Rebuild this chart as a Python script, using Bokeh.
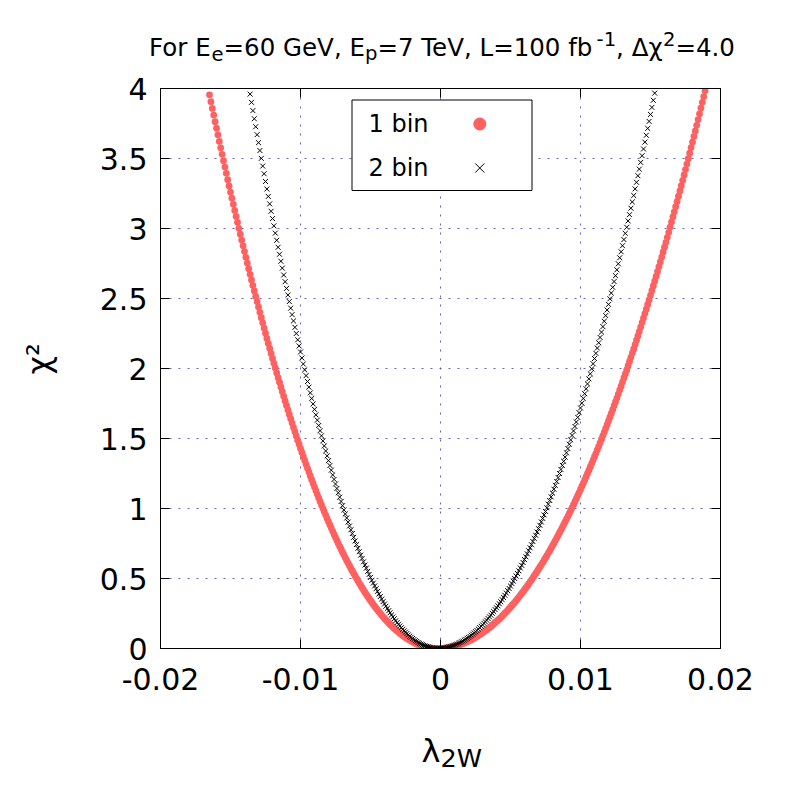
import math
from bokeh.plotting import figure
from bokeh.layouts import column, row
from bokeh.models import Range1d, LinearAxis, FixedTicker, BoxAnnotation, Label
from bokeh.embed import file_html
from bokeh.resources import INLINE

# ---------------- data ----------------
# lambda_2W in units of 1e-4, chi^2 values
lam_1bin_e4 = [
    -165, -164, -163, -162, -161, -160, -159, -158, -157, -156, -155, -154, -153, -152, -151, -150, -149, -148, -147, -146,
    -145, -144, -143, -142, -141, -140, -139, -138, -137, -136, -135, -134, -133, -132, -131, -130, -129, -128, -127, -126,
    -125, -124, -123, -122, -121, -120, -119, -118, -117, -116, -115, -114, -113, -112, -111, -110, -109, -108, -107, -106,
    -105, -104, -103, -102, -101, -100, -99, -98, -97, -96, -95, -94, -93, -92, -91, -90, -89, -88, -87, -86,
    -85, -84, -83, -82, -81, -80, -79, -78, -77, -76, -75, -74, -73, -72, -71, -70, -69, -68, -67, -66,
    -65, -64, -63, -62, -61, -60, -59, -58, -57, -56, -55, -54, -53, -52, -51, -50, -49, -48, -47, -46,
    -45, -44, -43, -42, -41, -40, -39, -38, -37, -36, -35, -34, -33, -32, -31, -30, -29, -28, -27, -26,
    -25, -24, -23, -22, -21, -20, -19, -18, -17, -16, -15, -14, -13, -12, -11, -10, -9, -8, -7, -6,
    -5, -4, -3, -2, -1, 0, 1, 2, 3, 4, 5, 6, 7, 8, 9, 10, 11, 12, 13, 14,
    15, 16, 17, 18, 19, 20, 21, 22, 23, 24, 25, 26, 27, 28, 29, 30, 31, 32, 33, 34,
    35, 36, 37, 38, 39, 40, 41, 42, 43, 44, 45, 46, 47, 48, 49, 50, 51, 52, 53, 54,
    55, 56, 57, 58, 59, 60, 61, 62, 63, 64, 65, 66, 67, 68, 69, 70, 71, 72, 73, 74,
    75, 76, 77, 78, 79, 80, 81, 82, 83, 84, 85, 86, 87, 88, 89, 90, 91, 92, 93, 94,
    95, 96, 97, 98, 99, 100, 101, 102, 103, 104, 105, 106, 107, 108, 109, 110, 111, 112, 113, 114,
    115, 116, 117, 118, 119, 120, 121, 122, 123, 124, 125, 126, 127, 128, 129, 130, 131, 132, 133, 134,
    135, 136, 137, 138, 139, 140, 141, 142, 143, 144, 145, 146, 147, 148, 149, 150, 151, 152, 153, 154,
    155, 156, 157, 158, 159, 160, 161, 162, 163, 164, 165, 166, 167, 168, 169, 170, 171, 172, 173, 174,
    175, 176, 177, 178, 179, 180, 181, 182, 183, 184, 185, 186, 187, 188, 189,
]
chi2_1bin = [
    3.955, 3.906, 3.858, 3.810, 3.763, 3.716, 3.669, 3.622, 3.576, 3.530,
    3.484, 3.439, 3.394, 3.349, 3.304, 3.260, 3.216, 3.173, 3.129, 3.086,
    3.044, 3.001, 2.959, 2.917, 2.876, 2.835, 2.794, 2.753, 2.713, 2.673,
    2.633, 2.593, 2.554, 2.515, 2.477, 2.439, 2.401, 2.363, 2.326, 2.289,
    2.252, 2.215, 2.179, 2.143, 2.108, 2.072, 2.037, 2.003, 1.968, 1.934,
    1.901, 1.867, 1.834, 1.801, 1.768, 1.736, 1.704, 1.672, 1.641, 1.610,
    1.579, 1.549, 1.518, 1.488, 1.459, 1.429, 1.400, 1.372, 1.343, 1.315,
    1.287, 1.260, 1.233, 1.206, 1.179, 1.153, 1.127, 1.101, 1.075, 1.050,
    1.025, 1.001, 0.977, 0.953, 0.929, 0.906, 0.882, 0.860, 0.837, 0.815,
    0.793, 0.772, 0.750, 0.729, 0.709, 0.688, 0.668, 0.648, 0.629, 0.610,
    0.591, 0.572, 0.554, 0.536, 0.518, 0.501, 0.484, 0.467, 0.450, 0.434,
    0.418, 0.402, 0.387, 0.372, 0.357, 0.343, 0.329, 0.315, 0.301, 0.288,
    0.275, 0.263, 0.250, 0.238, 0.226, 0.215, 0.204, 0.193, 0.182, 0.172,
    0.162, 0.152, 0.143, 0.134, 0.125, 0.117, 0.109, 0.101, 0.093, 0.086,
    0.079, 0.072, 0.066, 0.060, 0.054, 0.048, 0.043, 0.038, 0.033, 0.029,
    0.025, 0.021, 0.018, 0.015, 0.012, 0.010, 0.007, 0.005, 0.004, 0.002,
    0.001, 0.001, 0.000, 0.000,
    0.000, 0.000, 0.001, 0.002, 0.003, 0.004, 0.005, 0.007, 0.009, 0.011,
    0.013, 0.016, 0.018, 0.021, 0.025, 0.028, 0.032, 0.035, 0.039, 0.044,
    0.048, 0.053, 0.058, 0.063, 0.068, 0.074, 0.080, 0.086, 0.092, 0.098,
    0.105, 0.112, 0.119, 0.126, 0.134, 0.142, 0.149, 0.158, 0.166, 0.175,
    0.184, 0.193, 0.202, 0.211, 0.221, 0.231, 0.241, 0.252, 0.262, 0.273,
    0.284, 0.295, 0.307, 0.318, 0.330, 0.342, 0.355, 0.367, 0.380, 0.393,
    0.406, 0.420, 0.433, 0.447, 0.461, 0.476, 0.490, 0.505, 0.520, 0.535,
    0.550, 0.566, 0.582, 0.598, 0.614, 0.631, 0.647, 0.664, 0.682, 0.699,
    0.716, 0.734, 0.752, 0.771, 0.789, 0.808, 0.827, 0.846, 0.865, 0.885,
    0.904, 0.924, 0.944, 0.965, 0.986, 1.006, 1.027, 1.049, 1.070, 1.092,
    1.114, 1.136, 1.159, 1.181, 1.204, 1.227, 1.250, 1.274, 1.297, 1.321,
    1.345, 1.370, 1.394, 1.419, 1.444, 1.469, 1.495, 1.521, 1.546, 1.573,
    1.599, 1.625, 1.652, 1.679, 1.706, 1.734, 1.761, 1.789, 1.817, 1.846,
    1.874, 1.903, 1.932, 1.961, 1.990, 2.020, 2.050, 2.080, 2.110, 2.140,
    2.171, 2.202, 2.233, 2.264, 2.296, 2.328, 2.360, 2.392, 2.424, 2.457,
    2.490, 2.523, 2.556, 2.590, 2.624, 2.658, 2.692, 2.726, 2.761, 2.796,
    2.831, 2.866, 2.901, 2.937, 2.973, 3.009, 3.046, 3.082, 3.119, 3.156,
    3.193, 3.231, 3.268, 3.306, 3.344, 3.383, 3.421, 3.460, 3.499, 3.538,
    3.578, 3.617, 3.657, 3.697, 3.737, 3.778, 3.819, 3.860, 3.901, 3.942,
    3.984,
]
lam_2bin_e4 = [
    -136, -135, -134, -133, -132, -131, -130, -129, -128, -127, -126, -125, -124, -123, -122, -121, -120, -119, -118, -117,
    -116, -115, -114, -113, -112, -111, -110, -109, -108, -107, -106, -105, -104, -103, -102, -101, -100, -99, -98, -97,
    -96, -95, -94, -93, -92, -91, -90, -89, -88, -87, -86, -85, -84, -83, -82, -81, -80, -79, -78, -77,
    -76, -75, -74, -73, -72, -71, -70, -69, -68, -67, -66, -65, -64, -63, -62, -61, -60, -59, -58, -57,
    -56, -55, -54, -53, -52, -51, -50, -49, -48, -47, -46, -45, -44, -43, -42, -41, -40, -39, -38, -37,
    -36, -35, -34, -33, -32, -31, -30, -29, -28, -27, -26, -25, -24, -23, -22, -21, -20, -19, -18, -17,
    -16, -15, -14, -13, -12, -11, -10, -9, -8, -7, -6, -5, -4, -3, -2, -1, 0, 1, 2, 3,
    4, 5, 6, 7, 8, 9, 10, 11, 12, 13, 14, 15, 16, 17, 18, 19, 20, 21, 22, 23,
    24, 25, 26, 27, 28, 29, 30, 31, 32, 33, 34, 35, 36, 37, 38, 39, 40, 41, 42, 43,
    44, 45, 46, 47, 48, 49, 50, 51, 52, 53, 54, 55, 56, 57, 58, 59, 60, 61, 62, 63,
    64, 65, 66, 67, 68, 69, 70, 71, 72, 73, 74, 75, 76, 77, 78, 79, 80, 81, 82, 83,
    84, 85, 86, 87, 88, 89, 90, 91, 92, 93, 94, 95, 96, 97, 98, 99, 100, 101, 102, 103,
    104, 105, 106, 107, 108, 109, 110, 111, 112, 113, 114, 115, 116, 117, 118, 119, 120, 121, 122, 123,
    124, 125, 126, 127, 128, 129, 130, 131, 132, 133, 134, 135, 136, 137, 138, 139, 140, 141, 142, 143,
    144, 145, 146, 147, 148, 149, 150, 151, 152, 153,
]
chi2_2bin = [
    3.960, 3.901, 3.842, 3.784, 3.727, 3.670, 3.613, 3.557, 3.501, 3.446,
    3.391, 3.336, 3.282, 3.229, 3.176, 3.123, 3.071, 3.019, 2.967, 2.916,
    2.866, 2.816, 2.766, 2.717, 2.668, 2.620, 2.572, 2.525, 2.478, 2.431,
    2.385, 2.340, 2.294, 2.250, 2.205, 2.161, 2.118, 2.075, 2.032, 1.990,
    1.949, 1.907, 1.867, 1.826, 1.786, 1.747, 1.708, 1.669, 1.631, 1.593,
    1.556, 1.519, 1.483, 1.447, 1.411, 1.376, 1.342, 1.307, 1.274, 1.240,
    1.208, 1.175, 1.143, 1.112, 1.081, 1.050, 1.020, 0.990, 0.961, 0.932,
    0.903, 0.875, 0.848, 0.821, 0.794, 0.768, 0.742, 0.716, 0.692, 0.667,
    0.643, 0.619, 0.596, 0.574, 0.551, 0.529, 0.508, 0.487, 0.467, 0.447,
    0.427, 0.408, 0.389, 0.371, 0.353, 0.335, 0.318, 0.302, 0.286, 0.270,
    0.255, 0.240, 0.226, 0.212, 0.198, 0.185, 0.173, 0.161, 0.149, 0.138,
    0.127, 0.117, 0.107, 0.097, 0.088, 0.080, 0.071, 0.064, 0.056, 0.050,
    0.043, 0.037, 0.032, 0.027, 0.022, 0.018, 0.014, 0.011, 0.008, 0.006,
    0.004, 0.002, 0.001, 0.000, 0.000,
    0.000, 0.001, 0.001, 0.003, 0.004, 0.006, 0.008, 0.011, 0.013, 0.017,
    0.020, 0.024, 0.028, 0.032, 0.037, 0.042, 0.048, 0.053, 0.060, 0.066,
    0.073, 0.080, 0.087, 0.095, 0.103, 0.112, 0.120, 0.129, 0.139, 0.149,
    0.159, 0.169, 0.180, 0.191, 0.202, 0.214, 0.226, 0.238, 0.251, 0.264,
    0.278, 0.291, 0.305, 0.320, 0.334, 0.349, 0.365, 0.380, 0.396, 0.413,
    0.429, 0.446, 0.464, 0.481, 0.500, 0.518, 0.536, 0.555, 0.575, 0.594,
    0.614, 0.635, 0.655, 0.676, 0.698, 0.719, 0.741, 0.764, 0.786, 0.809,
    0.832, 0.856, 0.880, 0.904, 0.929, 0.954, 0.979, 1.005, 1.031, 1.057,
    1.083, 1.110, 1.138, 1.165, 1.193, 1.221, 1.250, 1.279, 1.308, 1.337,
    1.367, 1.398, 1.428, 1.459, 1.490, 1.522, 1.554, 1.586, 1.618, 1.651,
    1.684, 1.718, 1.752, 1.786, 1.820, 1.855, 1.890, 1.926, 1.962, 1.998,
    2.034, 2.071, 2.108, 2.146, 2.184, 2.222, 2.260, 2.299, 2.338, 2.378,
    2.418, 2.458, 2.498, 2.539, 2.580, 2.621, 2.663, 2.705, 2.748, 2.791,
    2.834, 2.877, 2.921, 2.965, 3.009, 3.054, 3.099, 3.145, 3.190, 3.236,
    3.283, 3.330, 3.377, 3.424, 3.472, 3.520, 3.568, 3.617, 3.666, 3.715,
    3.765, 3.815, 3.865, 3.916, 3.967,
]
assert len(lam_1bin_e4) == len(chi2_1bin), (len(lam_1bin_e4), len(chi2_1bin))
assert len(lam_2bin_e4) == len(chi2_2bin), (len(lam_2bin_e4), len(chi2_2bin))
lam_1bin = [v * 1e-4 for v in lam_1bin_e4]
lam_2bin = [v * 1e-4 for v in lam_2bin_e4]

x_ticks = [-0.02, -0.01, 0.0, 0.01, 0.02]
x_tick_labels = ["-0.02", "-0.01", "0", "0.01", "0.02"]
y_ticks = [0, 0.5, 1, 1.5, 2, 2.5, 3, 3.5, 4]
y_tick_labels = ["0", "0.5", "1", "1.5", "2", "2.5", "3", "3.5", "4"]
legend_labels = ["1 bin", "2 bin"]
title_parts = [("For E", "base"), ("e", "sub"), ("=60 GeV, E", "base"), ("p", "sub"),
               ("=7 TeV, L=100 fb", "base"), ("-1", "sup"), (", Δχ", "base"),
               ("2", "sup"), ("=4.0", "base")]
x_label_parts = [("λ", "base"), ("2W", "sub")]
y_label_text = "χ²"

# ---------------- page layout (pixels) ----------------
PAGE_W = 800
TITLE_H = 68          # title strip
MAIN_TOP = 20         # frame top at 88
FW, FH = 560, 560
MAIN_BOTTOM = 80
MAIN_H = MAIN_TOP + FH + MAIN_BOTTOM   # 660
YLAB_W = 80
XLAB_H = 800 - TITLE_H - MAIN_H        # 72
FL, FT = 160, 88
XMIN, XMAX, YMIN, YMAX = -0.02, 0.02, 0.0, 4.0
FONT = "DejaVu Sans"


def px2x(px):
    return XMIN + (px - FL) * (XMAX - XMIN) / FW


def py2y(py):
    return YMAX - (py - FT) * (YMAX - YMIN) / FH


def blank_fig(w, h):
    f = figure(width=w, height=h, x_range=Range1d(0, w), y_range=Range1d(h, 0),
               x_axis_type=None, y_axis_type=None, toolbar_location=None,
               output_backend="svg", min_border=0)
    f.outline_line_color = None
    f.background_fill_color = "white"
    f.border_fill_color = "white"
    f.grid.visible = False
    return f


def txt(fig, x, y, text, size, level="annotation"):
    fig.add_layout(Label(x=x, y=y, text=text, text_font=FONT, text_font_size=size,
                         text_color="black", text_align="left", text_baseline="alphabetic",
                         level=level))


# ---------------- main plot ----------------
p = figure(frame_width=FW, frame_height=FH, output_backend="svg", toolbar_location=None,
           x_range=Range1d(XMIN, XMAX), y_range=Range1d(YMIN, YMAX),
           min_border_left=FL - YLAB_W, min_border_right=PAGE_W - FL - FW,
           min_border_top=MAIN_TOP, min_border_bottom=MAIN_BOTTOM)
p.title.visible = False
p.background_fill_color = "white"
p.border_fill_color = "white"
p.outline_line_color = "black"
p.outline_line_width = 1


def style_axis(ax, ticks, labels, show):
    ax.ticker = FixedTicker(ticks=ticks)
    ax.major_label_overrides = {t: (l if show else "") for t, l in zip(ticks, labels)}
    ax.major_tick_in = 9
    ax.major_tick_out = 0
    ax.minor_tick_in = 0
    ax.minor_tick_out = 0
    ax.axis_line_color = "black"
    ax.major_tick_line_color = "black"
    ax.major_tick_line_width = 1
    ax.major_label_text_font = FONT
    ax.major_label_text_font_size = "30px" if show else "1px"
    ax.major_label_text_color = "black"


style_axis(p.xaxis[0], x_ticks, x_tick_labels, True)
p.xaxis[0].major_label_standoff = 19
style_axis(p.yaxis[0], y_ticks, y_tick_labels, True)
p.yaxis[0].major_label_standoff = 13

top_axis = LinearAxis()
style_axis(top_axis, x_ticks, x_tick_labels, False)
top_axis.major_label_standoff = 0
p.add_layout(top_axis, "above")
right_axis = LinearAxis()
style_axis(right_axis, y_ticks, y_tick_labels, False)
right_axis.major_label_standoff = 0
p.add_layout(right_axis, "right")

for g in (p.xgrid[0], p.ygrid[0]):
    g.grid_line_color = "#4a4aac"
    g.grid_line_alpha = 0.85
    g.grid_line_width = 1
    g.grid_line_dash = "2 7"

RED = "#ff6060"
p.scatter(lam_1bin, chi2_1bin, marker="circle", size=6.8, fill_color=RED, line_color=None)
p.scatter(lam_2bin, chi2_2bin, marker="x", size=7, line_color="black", line_width=1)

# legend box drawn like the gnuplot key
box = BoxAnnotation(left=px2x(351.5), right=px2x(531.5), top=py2y(99.5), bottom=py2y(190),
                    fill_color="white", fill_alpha=1.0, line_color="black", line_width=1,
                    line_alpha=1.0)
p.add_layout(box)
leg_baselines = [132.5, 176.5]
leg_centers = [123.5, 167.5]
for lab, base in zip(legend_labels, leg_baselines):
    txt(p, px2x(368), py2y(base - 9), lab, "24px", level="overlay")
p.scatter([px2x(479.3)], [py2y(leg_centers[0])], marker="circle", size=13,
          fill_color=RED, line_color=None, level="overlay")
p.scatter([px2x(479.3)], [py2y(leg_centers[1])], marker="x", size=13,
          line_color="black", line_width=1, level="overlay")


# ---------------- title strip ----------------
def em_width(s):
    w = {"F": 0.575, "o": 0.612, "r": 0.411, " ": 0.318, "E": 0.632, "e": 0.615, "=": 0.838,
         "G": 0.776, "V": 0.684, ",": 0.318, "p": 0.635, "T": 0.611, "L": 0.557, "f": 0.352,
         "b": 0.635, "-": 0.361, "Δ": 0.684, "χ": 0.592, ".": 0.318}
    return sum(w.get(c, 0.636) for c in s)


tfig = blank_fig(PAGE_W, TITLE_H)
TSIZE = 24.5
total_em = sum(em_width(t) * (1.0 if k == "base" else 0.8) for t, k in title_parts)
cur_px = 441.5 - total_em * TSIZE / 2
title_base = 51.7 - 5
for text, kind in title_parts:
    scale = 1.0 if kind == "base" else 0.8
    dy = {"base": 0.0, "sub": 6.5, "sup": -8.5}[kind]
    txt(tfig, cur_px, title_base + dy, text, "%.1fpx" % (TSIZE * scale))
    cur_px += em_width(text) * scale * TSIZE

# ---------------- y label strip (chi^2, rotated) ----------------
yfig = blank_fig(YLAB_W, MAIN_H)
yfig.add_layout(Label(x=38, y=405 - TITLE_H, text=y_label_text, text_font=FONT,
                      text_font_size="32px", text_color="black", text_align="left",
                      text_baseline="middle", angle=math.pi / 2))

# ---------------- x label strip (lambda_2W) ----------------
xfig = blank_fig(PAGE_W, XLAB_H)
y0 = TITLE_H + MAIN_H
txt(xfig, 421, 760 - 10 - y0, x_label_parts[0][0], "32px")
txt(xfig, 440, 767 - 10 - y0, x_label_parts[1][0], "25.6px")

layout = column(tfig, row(yfig, p), xfig)
open("out.html", "w").write(file_html(layout, INLINE))
